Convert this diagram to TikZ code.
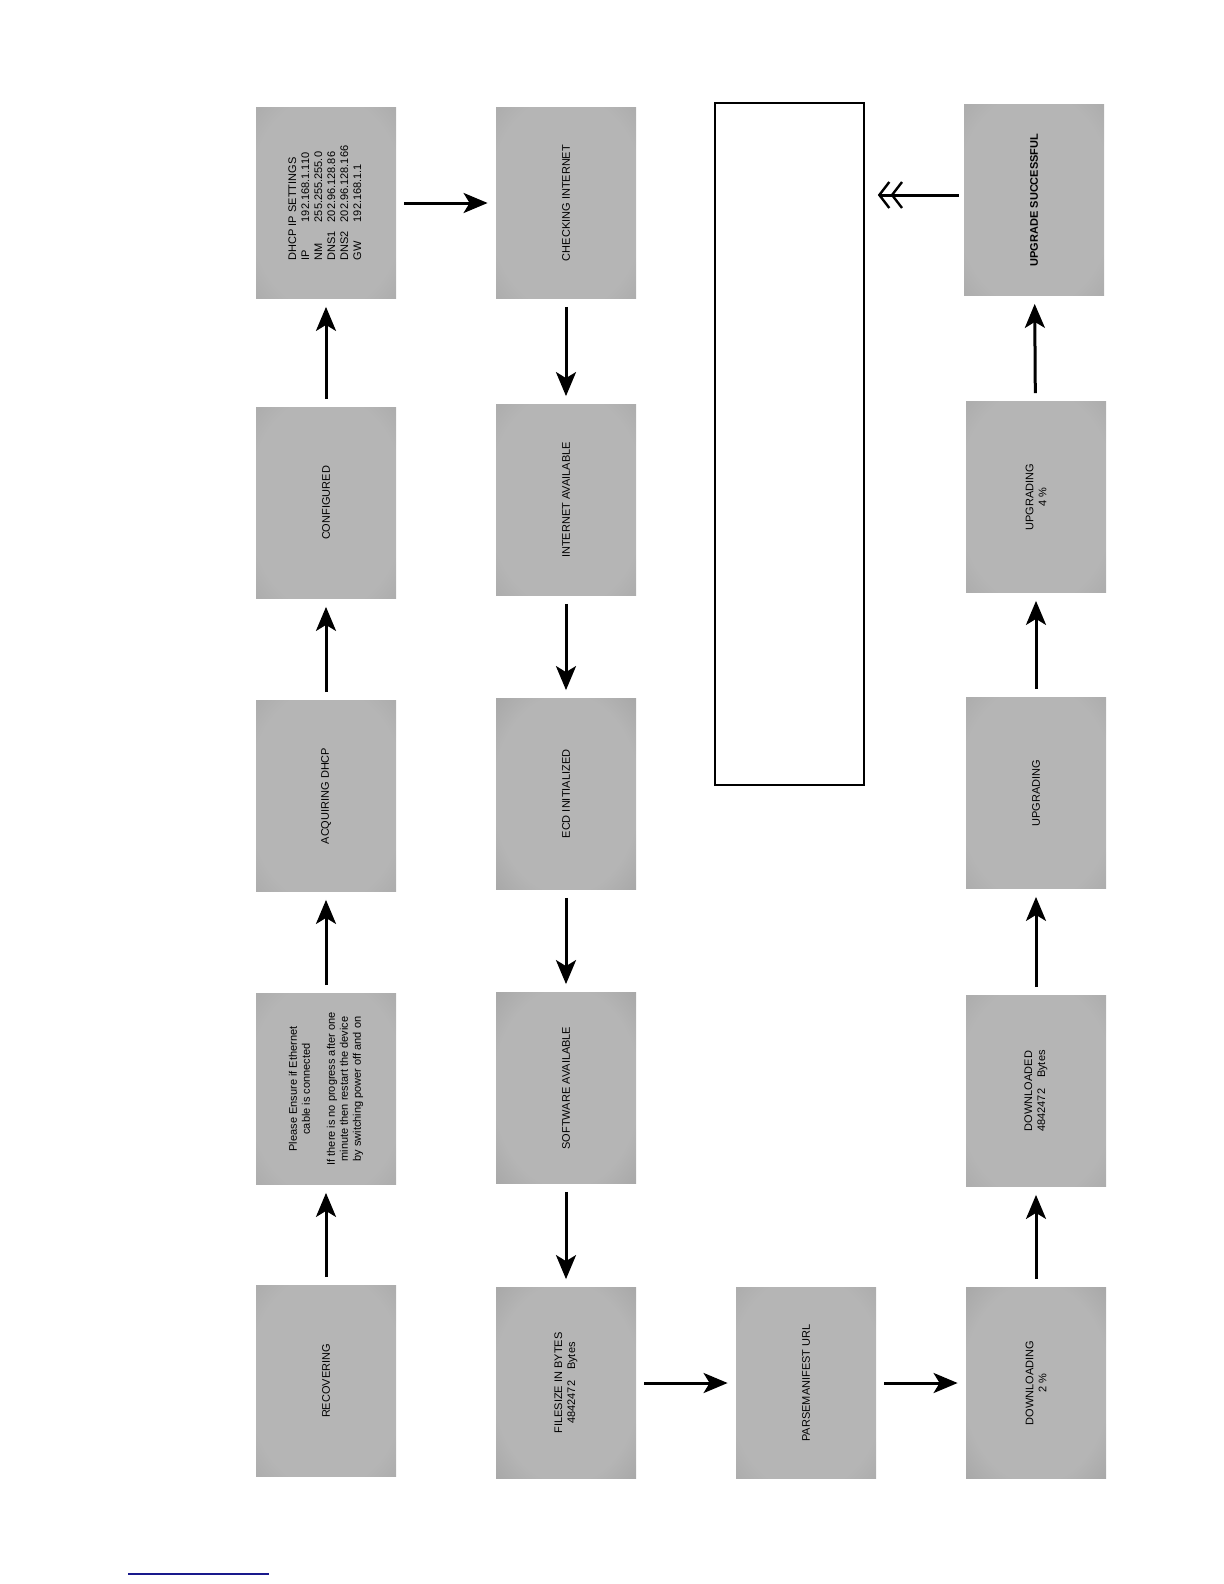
\documentclass[tikz,border=0pt]{standalone}
\usepackage{fontspec}
\setmainfont{Liberation Sans}
\usetikzlibrary{arrows.meta}

\definecolor{scrlight}{gray}{0.71}
\definecolor{scrdark}{gray}{0.60}
\definecolor{scrshadow}{gray}{0.22}
\definecolor{linkblue}{rgb}{0.1,0.1,0.55}
\pgfdeclareradialshading{screenglow}{\pgfpoint{0bp}{0bp}}{color(0bp)=(scrlight); color(28bp)=(scrlight); color(52bp)=(scrdark); color(72bp)=(scrdark)}
\pgfdeclareradialshading{screenshade}{\pgfpoint{0bp}{0bp}}{color(0bp)=(scrlight); color(26bp)=(scrlight); color(46bp)=(scrdark); color(60bp)=(scrshadow); color(72bp)=(scrshadow)}

\tikzset{
  screen/.style={rotate=90, minimum width=95.5pt, minimum height=70pt, inner sep=1pt,
    shade, shading=screenglow, text=black, align=center,
    font=\fontsize{5.5}{6.5}\selectfont},
  screendim/.style={screen, shading=screenshade},
  flow/.style={line width=1.5pt, -{Stealth[length=12pt,width=10pt,inset=3pt]},
    shorten <=4pt, shorten >=4pt}
}

\begin{document}
\begin{tikzpicture}[x=0.5pt,y=-0.5pt]
\useasboundingbox (0,0) rectangle (1224,1584);
% left column
\node[screen] (recover) at (326,1381){RECOVERING};
\node[screen] (ensure) at (326,1089){Please Ensure if Ethernet\\cable is connected\\[6pt]If there is no progress after one\\minute then restart the device\\by switching power off and on};
\node[screen] (acquire) at (326,796){ACQUIRING DHCP};
\node[screen] (configured) at (326,503){CONFIGURED};
\node[screen] (dhcp) at (326,203){\begin{tabular}{@{}l@{\hspace{0.8em}}l@{}}
\multicolumn{2}{@{}l@{}}{DHCP IP SETTINGS}\\
IP & 192.168.1.110\\
NM & 255.255.255.0\\
DNS1 & 202.96.128.86\\
DNS2 & 202.96.128.166\\
GW & 192.168.1.1
\end{tabular}};
% middle column
\node[screen] (checknet) at (566,203){CHECKING INTERNET};
\node[screen] (netok) at (566,500){INTERNET AVAILABLE};
\node[screendim] (ecdinit) at (566,794){ECD INITIALIZED};
\node[screendim] (swavail) at (566,1088){SOFTWARE AVAILABLE};
\node[screendim] (filesize) at (566,1383){FILESIZE IN BYTES\\4842472\quad Bytes};
\node[screen] (parse) at (806,1383){PARSEMANIFEST URL};
% right column
\node[screendim] (downloading) at (1036,1383){DOWNLOADING\\2 \%};
\node[screen] (downloaded) at (1036,1091){DOWNLOADED\\4842472\quad Bytes};
\node[screen] (upgrading) at (1036,793){UPGRADING};
\node[screen] (upgradefour) at (1036,497){UPGRADING\\4 \%};
\node[screen, font=\fontsize{5.5}{6.5}\selectfont\bfseries] (success) at (1034,200){UPGRADE SUCCESSFUL};
\node[draw, line width=0.8pt, fill=white, minimum width=74.5pt, minimum height=341pt, inner sep=0pt] (memo) at (789.5,444){};
\coordinate (memoport) at (memo.east |- 0,195);

\draw[flow] (recover) -- (ensure);
\draw[flow] (ensure) -- (acquire);
\draw[flow] (acquire) -- (configured);
\draw[flow] (configured) -- (dhcp);
\draw[flow] (dhcp) -- (checknet);
\draw[flow] (checknet) -- (netok);
\draw[flow] (netok) -- (ecdinit);
\draw[flow] (ecdinit) -- (swavail);
\draw[flow] (swavail) -- (filesize);
\draw[flow] (filesize) -- (parse);
\draw[flow] (parse) -- (downloading);
\draw[flow] (downloading) -- (downloaded);
\draw[flow] (downloaded) -- (upgrading);
\draw[flow] (upgrading) -- (upgradefour);
\draw[flow] (upgradefour) -- (success);
\draw[line width=1.5pt, shorten <=2.5pt, shorten >=6.5pt, -{Straight Barb[length=5pt,width=13pt,line width=1.2pt] Straight Barb[length=5pt,width=13pt,line width=1.2pt]}] (success.north |- memoport) -- (memoport);

\draw[linkblue, line width=0.6pt] (128,1574) -- (269,1574);
\end{tikzpicture}
\end{document}
